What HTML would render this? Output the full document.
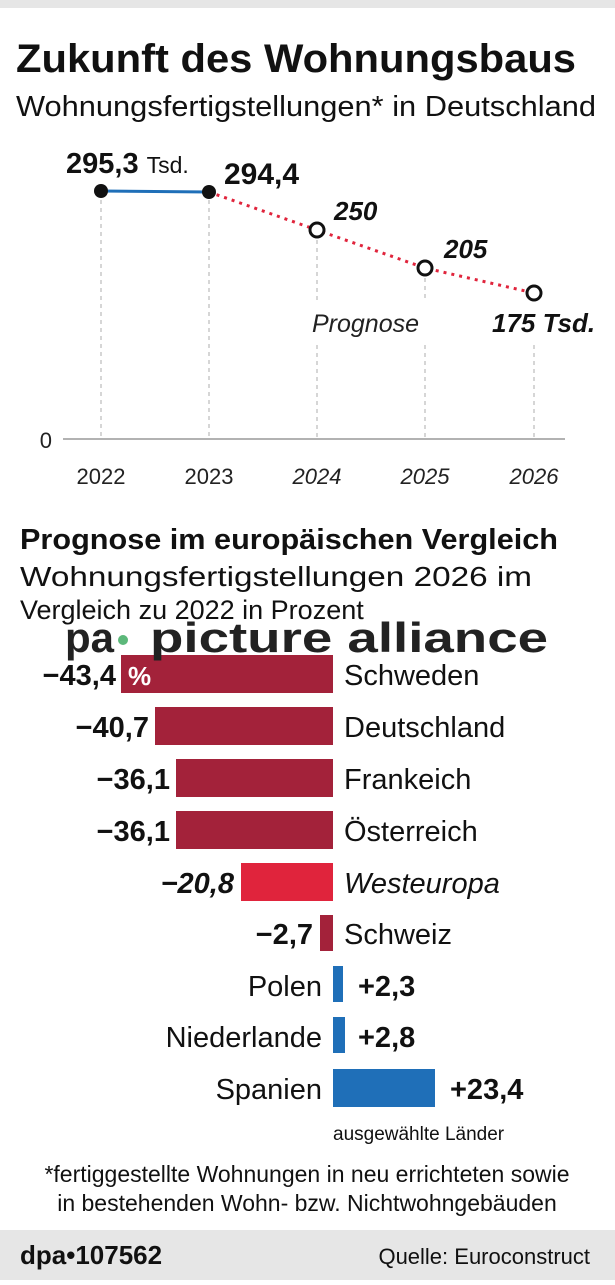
<!DOCTYPE html>
<html><head><meta charset="utf-8"><style>
body{margin:0;width:615px;height:1280px;background:#fff;overflow:hidden;font-family:"Liberation Sans",sans-serif;}
</style></head><body>
<svg width="615" height="1280" xmlns="http://www.w3.org/2000/svg" font-family="Liberation Sans, sans-serif">
<rect x="0" y="0" width="615" height="8" fill="#e6e6e6"/>
<text x="16" y="72" font-size="40" font-weight="bold" fill="#111" textLength="560" lengthAdjust="spacingAndGlyphs">Zukunft des Wohnungsbaus</text>
<text x="16" y="116" font-size="29" fill="#111" textLength="580" lengthAdjust="spacingAndGlyphs">Wohnungsfertigstellungen* in Deutschland</text>
<g stroke="#bbb" stroke-width="1.2" stroke-dasharray="4,4">
<line x1="101" y1="200" x2="101" y2="439"/><line x1="209" y1="200" x2="209" y2="439"/>
<line x1="317" y1="240" x2="317" y2="300"/><line x1="317" y1="345" x2="317" y2="439"/>
<line x1="425" y1="278" x2="425" y2="300"/><line x1="425" y1="345" x2="425" y2="439"/>
<line x1="534" y1="345" x2="534" y2="439"/>
</g>
<line x1="63" y1="439" x2="565" y2="439" stroke="#999" stroke-width="1.5"/>
<text x="52" y="448" font-size="22" fill="#222" text-anchor="end">0</text>
<g font-size="22" fill="#222" text-anchor="middle">
<text x="101" y="484">2022</text><text x="209" y="484">2023</text>
<g font-style="italic"><text x="317" y="484">2024</text><text x="425" y="484">2025</text><text x="534" y="484">2026</text></g>
</g>
<line x1="101" y1="191" x2="209" y2="192" stroke="#1f6fb8" stroke-width="3"/>
<polyline points="209,192 317,230 425,268 534,293" fill="none" stroke="#e0243c" stroke-width="3" stroke-dasharray="3,5"/>
<circle cx="101" cy="191" r="7" fill="#111"/><circle cx="209" cy="192" r="7" fill="#111"/>
<g fill="#fff" stroke="#111" stroke-width="3"><circle cx="317" cy="230" r="7"/><circle cx="425" cy="268" r="7"/><circle cx="534" cy="293" r="7"/></g>
<text x="66" y="173" font-size="29" font-weight="bold" fill="#111">295,3 <tspan font-weight="normal" font-size="23">Tsd.</tspan></text>
<text x="224" y="184" font-size="30" font-weight="bold" fill="#111">294,4</text>
<g font-size="26" font-weight="bold" font-style="italic" fill="#111">
<text x="334" y="220">250</text><text x="444" y="258">205</text><text x="492" y="332">175 Tsd.</text></g>
<text x="312" y="332" font-size="25" font-style="italic" fill="#222">Prognose</text>
<text x="20" y="549" font-size="29" font-weight="bold" fill="#111" textLength="538" lengthAdjust="spacingAndGlyphs">Prognose im europäischen Vergleich</text>
<text x="20" y="586" font-size="28" fill="#111" textLength="512" lengthAdjust="spacingAndGlyphs">Wohnungsfertigstellungen 2026 im</text>
<text x="20" y="619" font-size="27" fill="#111">Vergleich zu 2022 in Prozent</text>
<g fill="#a3223a">
<rect x="121" y="655" width="212" height="38"/><rect x="155" y="707" width="178" height="38"/>
<rect x="176" y="759" width="157" height="38"/><rect x="176" y="811" width="157" height="38"/>
<rect x="320" y="915" width="13" height="36"/></g>
<rect x="241" y="863" width="92" height="38" fill="#e0243c"/>
<g fill="#1f6fb8"><rect x="333" y="966" width="10" height="36"/><rect x="333" y="1017" width="12" height="36"/><rect x="333" y="1069" width="102" height="38"/></g>
<text x="128" y="685" font-size="26" font-weight="bold" fill="#fff">%</text>
<g font-size="29" font-weight="bold" fill="#111" text-anchor="end">
<text x="116" y="685">−43,4</text><text x="149" y="737">−40,7</text><text x="170" y="789">−36,1</text><text x="170" y="841">−36,1</text>
<text x="234" y="893" font-style="italic">−20,8</text><text x="313" y="944">−2,7</text></g>
<g font-size="29" font-weight="bold" fill="#111"><text x="358" y="996">+2,3</text><text x="358" y="1047">+2,8</text><text x="450" y="1099">+23,4</text></g>
<g font-size="29" fill="#111"><text x="344" y="685">Schweden</text><text x="344" y="737">Deutschland</text><text x="344" y="789">Frankeich</text><text x="344" y="841">Österreich</text>
<text x="344" y="893" font-style="italic">Westeuropa</text><text x="344" y="944">Schweiz</text></g>
<g font-size="29" fill="#111" text-anchor="end"><text x="322" y="996">Polen</text><text x="322" y="1047">Niederlande</text><text x="322" y="1099">Spanien</text></g>
<text x="333" y="1140" font-size="19" fill="#111">ausgewählte Länder</text>
<text x="307" y="1182" font-size="23" fill="#111" text-anchor="middle">*fertiggestellte Wohnungen in neu errichteten sowie</text>
<text x="307" y="1211" font-size="23" fill="#111" text-anchor="middle">in bestehenden Wohn- bzw. Nichtwohngebäuden</text>
<rect x="0" y="1230" width="615" height="50" fill="#e6e6e6"/>
<text x="20" y="1264" font-size="26" font-weight="bold" fill="#111">dpa•107562</text>
<text x="590" y="1264" font-size="22" fill="#111" text-anchor="end">Quelle: Euroconstruct</text>
<text x="65" y="652" font-size="42" font-weight="bold" fill="#222">pa</text>
<circle cx="123" cy="640" r="5" fill="#5cb87a"/>
<text x="150" y="652" font-size="42" font-weight="bold" fill="#222" textLength="398" lengthAdjust="spacingAndGlyphs">picture alliance</text>
</svg>
</body></html>
